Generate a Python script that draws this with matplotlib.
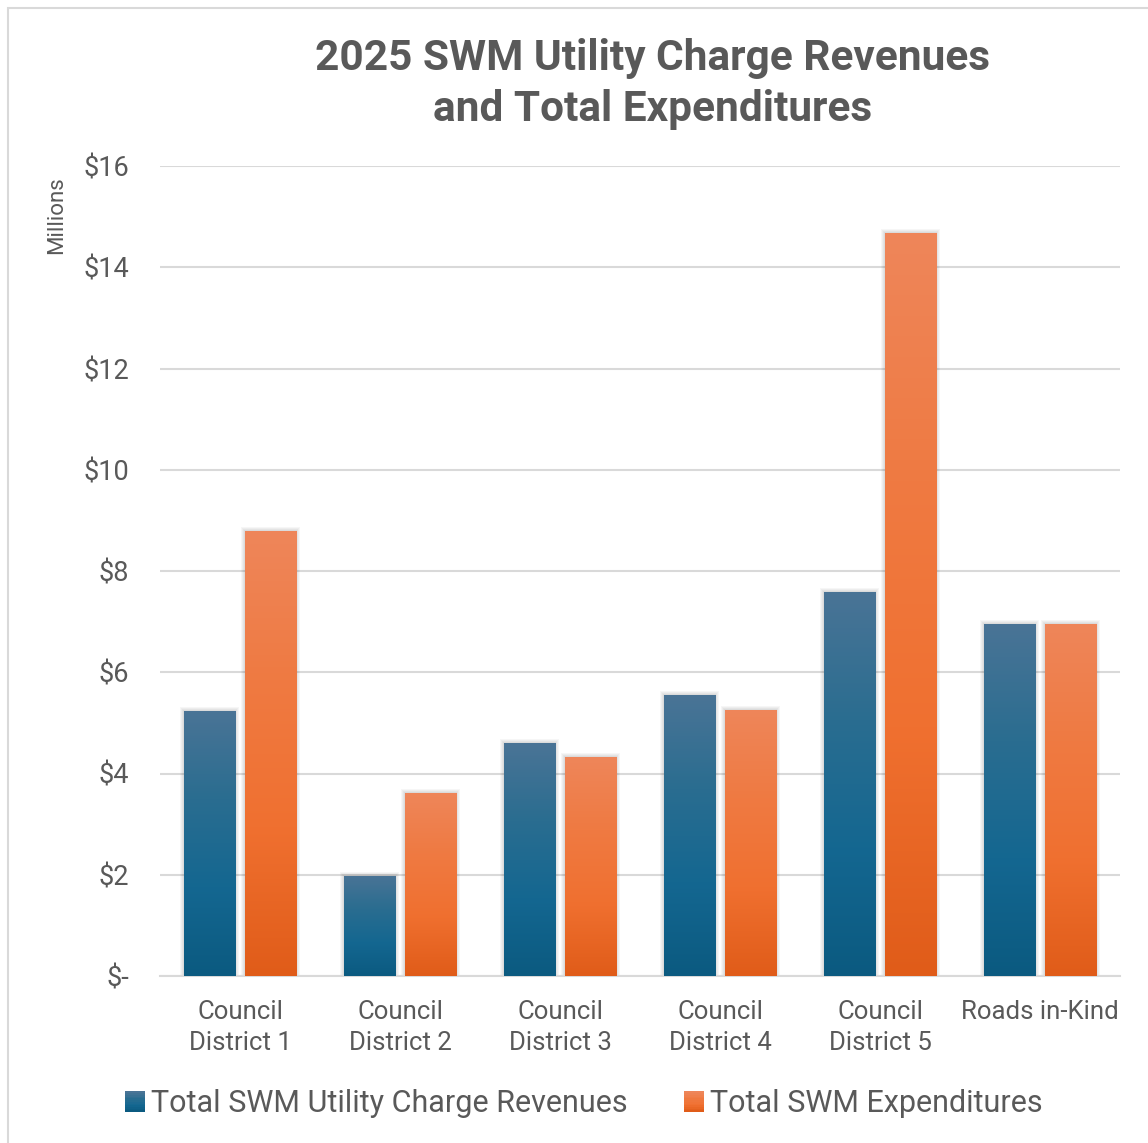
import numpy as np
import matplotlib
matplotlib.use("Agg")
import matplotlib.pyplot as plt
from matplotlib.colors import LinearSegmentedColormap
from matplotlib.patches import Rectangle
from matplotlib.legend_handler import HandlerBase

# Data (millions of dollars)
categories = ["Council\nDistrict 1", "Council\nDistrict 2", "Council\nDistrict 3",
              "Council\nDistrict 4", "Council\nDistrict 5", "Roads in-Kind"]
revenues = [5.24, 1.98, 4.60, 5.55, 7.59, 6.96]
expenditures = [8.79, 3.62, 4.33, 5.26, 14.68, 6.96]
series_names = ["Total SWM Utility Charge Revenues", "Total SWM Expenditures"]
y_ticks = [0, 2, 4, 6, 8, 10, 12, 14, 16]
y_tick_labels = ["$-", "$2", "$4", "$6", "$8", "$10", "$12", "$14", "$16"]

# gradients: bottom -> top
blue_grad = LinearSegmentedColormap.from_list("b", ["#0b5a80", "#146791", "#2a6d90", "#4a7496"])
orange_grad = LinearSegmentedColormap.from_list("o", ["#e05c19", "#f07030", "#ef7a42", "#ee865a"])

text_color = "#595959"
font = "Roboto"

fig = plt.figure(figsize=(11.48, 11.43), dpi=100)
W, H = 1148, 1143

# light frame around the chart area (only top and left edges visible)
fig.patches.append(Rectangle((8 / W, -0.1), 1.2, 1.1 - 8 / H, transform=fig.transFigure,
                             fill=False, edgecolor="#d9d9d9", linewidth=1.5))

ax = fig.add_axes([160 / W, 1 - 976 / H, 960 / W, (976 - 166) / H])

x = np.arange(len(categories))
width = 0.32
offset = 0.19

grad = np.linspace(0, 1, 256).reshape(-1, 1)
px_x = 6 / 960    # one pixel in x data units
px_y = 16 / 810   # one pixel in y data units


def gradient_bars(bars, cmap):
    for b in bars:
        bx, by = b.get_x(), b.get_y()
        bw, bh = b.get_width(), b.get_height()
        # soft glow shadow around the bar
        for k in [4, 3, 2, 1]:
            ax.add_patch(Rectangle((bx - k * px_x, by), bw + 2 * k * px_x, bh + k * px_y,
                                   facecolor="#000000", alpha=0.035, edgecolor="none",
                                   zorder=2))
        im = ax.imshow(grad, cmap=cmap, origin="lower", aspect="auto",
                       extent=[bx, bx + bw, by, by + bh], zorder=3,
                       interpolation="bicubic")
        im.set_clip_path(b)
        b.set_facecolor("none")


bars_rev = ax.bar(x - offset, revenues, width, color=blue_grad(0.5), zorder=3,
                  label=series_names[0])
bars_exp = ax.bar(x + offset, expenditures, width, color=orange_grad(0.5), zorder=3,
                  label=series_names[1])
gradient_bars(bars_rev, blue_grad)
gradient_bars(bars_exp, orange_grad)

ax.set_xlim(-0.5, len(categories) - 0.5)
ax.set_ylim(0, 16)
ax.set_yticks(y_ticks)
ax.set_yticklabels(y_tick_labels)
ax.set_xticks(x)
ax.set_xticklabels(categories, linespacing=1.4)

ax.grid(axis="y", color="#d9d9d9", linewidth=1.5, zorder=0)
ax.set_axisbelow(True)
for s in ["top", "right", "left"]:
    ax.spines[s].set_visible(False)
ax.spines["bottom"].set_color("#d9d9d9")
ax.spines["bottom"].set_linewidth(1.5)
ax.tick_params(axis="both", length=0, colors=text_color)
ax.tick_params(axis="y", pad=22, labelsize=19.5)
ax.tick_params(axis="x", pad=17, labelsize=18.5)
for lab in ax.get_xticklabels() + ax.get_yticklabels():
    lab.set_fontfamily(font)
    lab.set_color(text_color)

fig.text(57 / W, 1 - 215 / H, "Millions", rotation=90, ha="center", va="center",
         fontsize=16, color=text_color, family=font)

fig.text(653 / W, 1 - 84 / H, "2025 SWM Utility Charge Revenues\nand Total Expenditures",
         ha="center", va="center", fontsize=30.5, fontweight="bold", color=text_color,
         family=font, linespacing=1.32)


class GradientHandler(HandlerBase):
    def __init__(self, cmap):
        super().__init__()
        self.cmap = cmap

    def create_artists(self, legend, orig_handle, xdescent, ydescent, width, height,
                       fontsize, trans):
        n = 12
        size = height * 0.95
        x0 = xdescent + width - size
        y0 = -ydescent + (height - size) / 2 - height * 0.05
        arts = []
        for i in range(n):
            arts.append(Rectangle((x0, y0 + size * i / n), size, size / n + 0.3,
                                  facecolor=self.cmap(i / (n - 1)), edgecolor="none",
                                  transform=trans))
        return arts


leg = fig.legend([bars_rev, bars_exp], series_names, loc="center",
                 bbox_to_anchor=(585 / W, 1 - 1103 / H), ncol=2, frameon=False,
                 fontsize=22, handlelength=0.6, handletextpad=0.2, columnspacing=1.9,
                 handler_map={bars_rev: GradientHandler(blue_grad),
                              bars_exp: GradientHandler(orange_grad)})
for t in leg.get_texts():
    t.set_color(text_color)
    t.set_fontfamily(font)

fig.savefig("out.png", dpi=100, facecolor="white")
